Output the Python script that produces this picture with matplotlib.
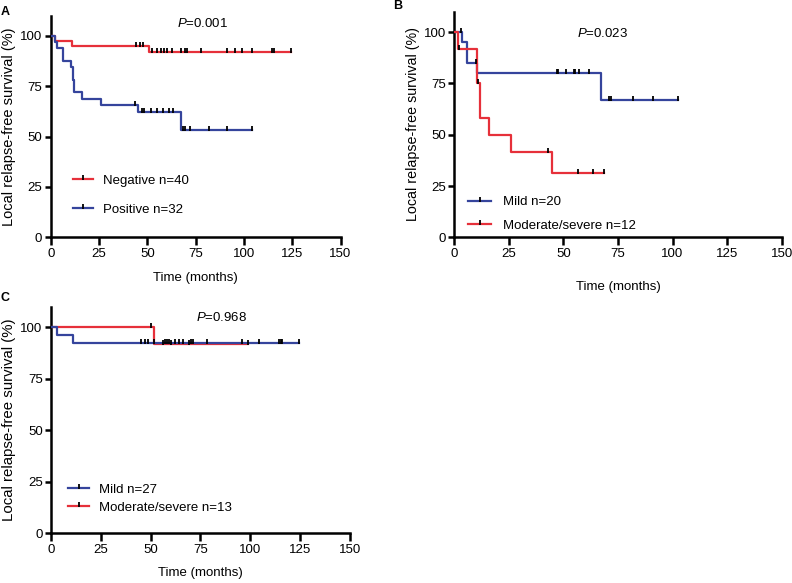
import numpy as np
import matplotlib
matplotlib.use('Agg')
import matplotlib.pyplot as plt
from matplotlib.lines import Line2D

plt.rcParams['font.family'] = ['Liberation Sans', 'DejaVu Sans']
plt.rcParams['mathtext.fontset'] = 'custom'
plt.rcParams['mathtext.rm'] = 'Liberation Sans'
plt.rcParams['mathtext.it'] = 'Liberation Sans:italic'

RED = '#e6303a'
BLUE = '#35449c'
TICK = [(0, -0.3), (0, 1)]   # censor tick, pointing up from the curve

# Panel A
a_neg_t = [0, 2, 11, 51, 124.3]
a_neg_s = [100, 97.5, 95, 92.1, 92.1]
a_neg_c = [44, 46, 48, 52.5, 55, 57, 58.5, 60, 63, 67.5, 69.5, 70.7, 78, 91, 95.3, 99, 104.3, 114.3, 115.5, 124.3]
a_pos_t = [0, 2.2, 3.4, 6.5, 10.3, 11.3, 12.2, 16.3, 26, 45, 67.5, 104]
a_pos_s = [100, 96.9, 93.75, 87.5, 84.4, 78.1, 71.9, 68.75, 65.6, 62.3, 53.4, 53.4]
a_pos_c = [43.5, 47, 48.5, 52, 55, 58, 61, 63.5, 68.5, 69.5, 72, 82, 91, 104]

# Panel B
b_mild_t = [0, 3.4, 5.8, 10.5, 67, 102.6]
b_mild_s = [100, 95, 85, 80, 66.7, 66.7]
b_mild_c = [3, 10, 47, 47.6, 51, 54.8, 55.4, 57.3, 61.7, 70.7, 71.8, 81.7, 90.9, 102.6]
b_mod_t = [0, 1.5, 10.5, 11.8, 16, 26, 44.6, 68.6]
b_mod_s = [100, 91.7, 75, 58.3, 50, 41.7, 31.25, 31.25]
b_mod_c = [2, 11, 42.8, 56.5, 63.7, 68.6]

# Panel C
c_mild_t = [0, 3.2, 11.2, 124.6]
c_mild_s = [100, 96.3, 92.6, 92.6]
c_mild_c = [45.4, 47, 48.5, 51.5, 57.4, 58.2, 59, 62, 64, 66, 70.4, 71.2, 78.5, 95.7, 104.5, 114.5, 115.4, 116, 124.6]
c_mod_t = [0, 51.7, 99]
c_mod_s = [100, 91.7, 91.7]
c_mod_c = [50, 56, 60, 69, 99]


def surv_at(tc, t, s):
    idx = np.searchsorted(t, tc, side='right') - 1
    return np.array(s)[idx]


def km(ax, t, s, c, color):
    ax.step(t, s, where='post', color=color, lw=1.6, zorder=3)
    ax.plot(c, surv_at(c, t, s), ls='none', marker=TICK, color='k',
            markersize=5.5, mew=1.3, zorder=4)


def style(ax, xlabelpad, ylabelsize):
    ax.set_xlim(0, 150)
    ax.set_ylim(0, 110)
    ax.set_xticks([0, 25, 50, 75, 100, 125, 150])
    ax.set_yticks([0, 25, 50, 75, 100])
    for sp in ['top', 'right']:
        ax.spines[sp].set_visible(False)
    for sp in ['left', 'bottom']:
        ax.spines[sp].set_linewidth(1.8)
    ax.tick_params(axis='x', direction='out', length=6, width=1.8, labelsize=9.5, pad=2)
    ax.tick_params(axis='y', direction='out', length=4, width=1.8, labelsize=9.5, pad=2)
    ax.set_xlabel('Time (months)', fontsize=9.5, labelpad=xlabelpad)
    ax.set_ylabel('Local relapse-free survival (%)', fontsize=ylabelsize, labelpad=3)


def leg(ax, colors, labels, x0, yc, hl, sp, tp):
    handles = [Line2D([], [], color=col, lw=1.6, marker=TICK, markeredgecolor='k',
                      markersize=5.5, mew=1.3) for col in colors]
    ax.legend(handles, labels, loc='center left', bbox_to_anchor=(x0, yc),
              frameon=False, fontsize=9.5, handlelength=hl, labelspacing=sp,
              handletextpad=tp, borderpad=0, borderaxespad=0, numpoints=1)


fig = plt.figure(figsize=(7.92, 5.83), dpi=100)

axA = fig.add_axes([0.064, 0.593, 0.366, 0.380])
km(axA, a_neg_t, a_neg_s, a_neg_c, RED)
km(axA, a_pos_t, a_pos_s, a_pos_c, BLUE)
style(axA, 8, 10.5)
leg(axA, [RED, BLUE], ['Negative n=40', 'Positive n=32'], 0.076, 0.191, 1.5, 1.27, 0.78)
axA.text(78.8, 106.3, r'$P$=0.001', ha='center', va='center', fontsize=9.5)

axB = fig.add_axes([0.5736, 0.593, 0.4134, 0.387])
km(axB, b_mild_t, b_mild_s, b_mild_c, BLUE)
km(axB, b_mod_t, b_mod_s, b_mod_c, RED)
style(axB, 15, 10.3)
leg(axB, [BLUE, RED], ['Mild n=20', 'Moderate/severe n=12'], 0.041, 0.104, 1.8, 0.84, 0.88)
axB.text(67.8, 99.5, r'$P$=0.023', ha='center', va='center', fontsize=9.5)

axC = fig.add_axes([0.0644, 0.0853, 0.3775, 0.3887])
km(axC, c_mod_t, c_mod_s, c_mod_c, RED)
km(axC, c_mild_t, c_mild_s, c_mild_c, BLUE)
style(axC, 8, 10.8)
leg(axC, [BLUE, RED], ['Mild n=27', 'Moderate/severe n=13'], 0.058, 0.153, 1.6, 0.46, 0.76)
axC.text(85.6, 104.5, r'$P$=0.968', ha='center', va='center', fontsize=9.5)

fig.text(5 / 792, 1 - 12 / 583, 'A', fontsize=9, fontweight='bold', ha='center', va='center')
fig.text(398 / 792, 1 - 6 / 583, 'B', fontsize=9, fontweight='bold', ha='center', va='center')
fig.text(5 / 792, 1 - 298 / 583, 'C', fontsize=9, fontweight='bold', ha='center', va='center')

fig.savefig('out.png', dpi=100)
